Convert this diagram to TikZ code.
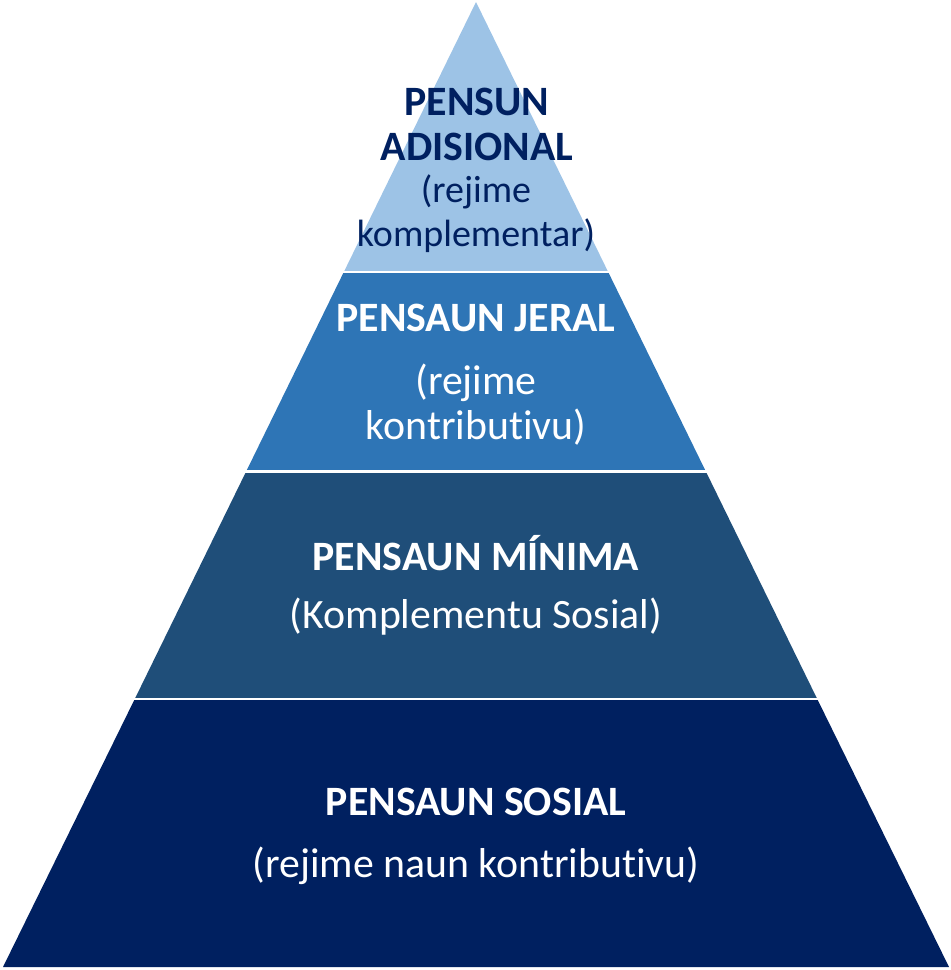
\documentclass[tikz,border=0pt]{standalone}
\usepackage{fontspec}
\setmainfont{Carlito}[Ligatures=NoCommon]
\definecolor{lvlA}{HTML}{9DC3E6}
\definecolor{lvlB}{HTML}{2E75B6}
\definecolor{lvlC}{HTML}{1F4E79}
\definecolor{lvlD}{HTML}{002060}
\definecolor{navytext}{HTML}{002060}
\begin{document}
\begin{tikzpicture}[x=1pt,y=-1pt,
  big/.style={font=\fontsize{41.8}{48}\selectfont\bfseries, inner sep=0pt, anchor=center},
  small/.style={font=\fontsize{41.8}{48}\selectfont, inner sep=0pt, anchor=center},
  smalltop/.style={font=\fontsize{38}{44}\selectfont, inner sep=0pt, anchor=center},
  gap/.style={white, line width=2.2pt}]
\useasboundingbox (0,0) rectangle (951,970);
% pyramid: apex (476,2), base from (3,967) to (949,967)
\def\slope{0.4896}
\fill[lvlA] (476,2) -- ({476-\slope*(272-2)},272) -- ({476+\slope*(272-2)},272) -- cycle;
\fill[lvlB] ({476-\slope*(272-2)},272) -- ({476+\slope*(272-2)},272) -- ({476+\slope*(471.5-2)},471.5) -- ({476-\slope*(471.5-2)},471.5) -- cycle;
\fill[lvlC] ({476-\slope*(471.5-2)},471.5) -- ({476+\slope*(471.5-2)},471.5) -- ({476+\slope*(699-2)},699) -- ({476-\slope*(699-2)},699) -- cycle;
\fill[lvlD] ({476-\slope*(699-2)},699) -- ({476+\slope*(699-2)},699) -- (949,967) -- (3,967) -- cycle;
\draw[gap] (300,272) -- (650,272);
\draw[gap] (200,471.5) -- (750,471.5);
\draw[gap] (100,699) -- (850,699);
% texts
\node[big,text=navytext] (a1) at (477,102) {PENSUN};
\node[big,text=navytext] (a2) at (477,147) {ADISIONAL};
\node[smalltop,text=navytext] (a3) at (476,192) {(rejime};
\node[smalltop,text=navytext] (a4) at (476,236) {komplementar)};
\node[big,text=white] (b1) at (476,318) {PENSAUN JERAL};
\node[small,text=white] (b2) at (476,383) {(rejime};
\node[small,text=white] (b3) at (476,427) {kontributivu)};
\node[big,text=white] (c1) at (476,553) {PENSAUN MÍNIMA};
\node[small,text=white] (c2) at (476,617) {(Komplementu Sosial)};
\node[big,text=white] (d1) at (476,802) {PENSAUN SOSIAL};
\node[small,text=white] (d2) at (476,866) {(rejime naun kontributivu)};
\end{tikzpicture}
\end{document}
